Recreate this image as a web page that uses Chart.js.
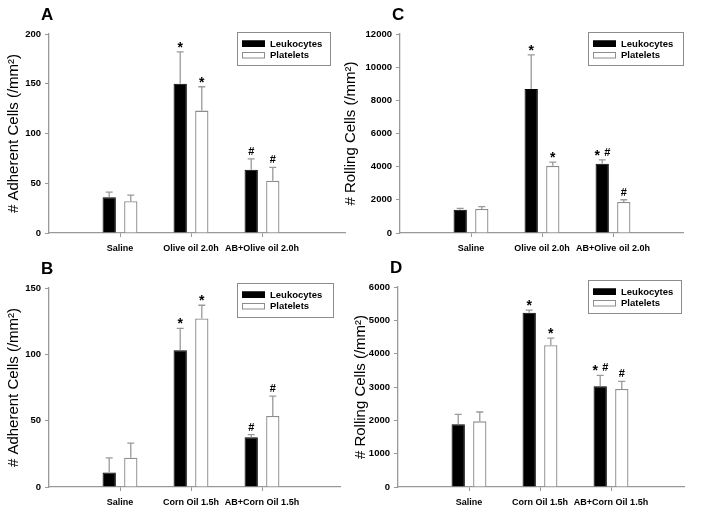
<!DOCTYPE html>
<html>
<head>
<meta charset="utf-8">
<script src="https://cdn.jsdelivr.net/npm/chart.js@4.4.0/dist/chart.umd.min.js"></script>
<style>
  body { margin: 0; background: #fff; }
  #wrap { position: relative; width: 702px; height: 516px; overflow: hidden; }
  canvas { position: absolute; }
</style>
</head>
<body>
<div id="wrap">
  <canvas id="chartA" width="351" height="258" style="left:0;top:0"></canvas>
  <canvas id="chartB" width="351" height="258" style="left:0;top:258px"></canvas>
  <canvas id="chartC" width="363" height="258" style="left:339px;top:0"></canvas>
  <canvas id="chartD" width="351" height="258" style="left:351px;top:258px"></canvas>
</div>
<script>
// groups on the x axis
const oliveGroups = ['Saline', 'Olive oil 2.0h', 'AB+Olive oil 2.0h'];
const cornGroups = ['Saline', 'Corn Oil 1.5h', 'AB+Corn Oil 1.5h'];
const seriesNames = ['Leukocytes', 'Platelets'];

// A - adherent cells, olive oil
const adhLeukOlive = [36, 150, 63.5];
const adhLeukOliveSem = [5, 32, 11];
const adhPlatOlive = [32, 123, 52.5];
const adhPlatOliveSem = [6, 24, 13.5];
const adhLeukOliveMark = ['', '*', '#'];
const adhPlatOliveMark = ['', '*', '#'];

// B - adherent cells, corn oil
const adhLeukCorn = [11, 103, 37.5];
const adhLeukCornSem = [11, 16.5, 2];
const adhPlatCorn = [22, 127, 53.5];
const adhPlatCornSem = [11, 10, 15];
const adhLeukCornMark = ['', '*', '#'];
const adhPlatCornMark = ['', '*', '#'];

// C - rolling cells, olive oil
const rolLeukOlive = [1400, 8690, 4170];
const rolLeukOliveSem = [80, 2050, 240];
const rolPlatOlive = [1445, 4050, 1865];
const rolPlatOliveSem = [140, 225, 140];
const rolLeukOliveMark = ['', '*', '* #'];
const rolPlatOliveMark = ['', '*', '#'];

// D - rolling cells, corn oil
const rolLeukCorn = [1880, 5225, 3020];
const rolLeukCornSem = [300, 80, 330];
const rolPlatCorn = [1970, 4255, 2940];
const rolPlatCornSem = [280, 210, 230];
const rolLeukCornMark = ['', '*', '* #'];
const rolPlatCornMark = ['', '*', '#'];

const yTicksAdhA = [0, 200, 50];
const yTicksAdhB = [0, 150, 50];
const yTicksRolC = [0, 12000, 2000];
const yTicksRolD = [0, 6000, 1000];

const FONT = "'Liberation Sans', Arial, Helvetica, sans-serif";

// error bars, significance marks, boxed legend and panel letter
function makeExtras(panel) {
  return {
    id: 'extras',
    afterDatasetsDraw(chart) {
      const ctx = chart.ctx;
      const yScale = chart.scales.y;
      chart.data.datasets.forEach((ds, i) => {
        const meta = chart.getDatasetMeta(i);
        meta.data.forEach((bar, j) => {
          const top = yScale.getPixelForValue(ds.data[j].y + ds.sem[j]);
          ctx.save();
          ctx.strokeStyle = '#9a9a9a';
          ctx.lineWidth = 1.3;
          ctx.beginPath();
          ctx.moveTo(bar.x, bar.y);
          ctx.lineTo(bar.x, top);
          ctx.moveTo(bar.x - 3.5, top);
          ctx.lineTo(bar.x + 3.5, top);
          ctx.stroke();
          const marks = ds.marks[j].split(' ').filter(m => m);
          marks.forEach((m, k) => {
            const cx = bar.x + (k - (marks.length - 1) / 2) * 10;
            ctx.fillStyle = '#000';
            ctx.textAlign = 'center';
            ctx.textBaseline = 'alphabetic';
            if (m === '*') {
              ctx.font = 'bold 14px ' + FONT;
              ctx.fillText(m, cx, top);
            } else {
              ctx.font = 'bold 11px ' + FONT;
              ctx.fillText(m, cx, top - 4);
            }
          });
          ctx.restore();
        });
      });
    },
    afterDraw(chart) {
      const ctx = chart.ctx;
      const area = chart.chartArea;
      const L = panel.legendBox;
      const lx = area.left + L.dx;
      ctx.save();
      ctx.strokeStyle = '#8c8c8c';
      ctx.lineWidth = 1;
      ctx.strokeRect(lx + 0.5, L.y + 0.5, L.w, L.h);
      chart.data.datasets.forEach((ds, i) => {
        const cy = L.y + 11.5 + i * 11.5;
        ctx.fillStyle = ds.backgroundColor;
        ctx.fillRect(lx + 5, cy - 3, 23, 6.5);
        ctx.strokeStyle = ds.borderColor;
        ctx.lineWidth = 1;
        ctx.strokeRect(lx + 5.5, cy - 2.5, 22, 5.5);
        ctx.fillStyle = '#000';
        ctx.font = 'bold 9.5px ' + FONT;
        ctx.textAlign = 'left';
        ctx.textBaseline = 'middle';
        ctx.fillText(ds.label, lx + 33, cy + 0.5);
      });
      ctx.font = 'bold 17px ' + FONT;
      ctx.textBaseline = 'alphabetic';
      ctx.fillText(panel.letter, area.left - 8, area.top - 14);
      ctx.restore();
    }
  };
}

function renderizar_panel(panel) {
  const el = document.getElementById(panel.canvas);
  const canvas = el.getContext('2d');
  const toPoints = (vals) => vals.map((v, i) => ({ x: i + 1, y: v }));
  const rightPad = el.width - panel.axisWidth - panel.slot * panel.xMax;
  new Chart(canvas, {
    type: 'bar',
    data: {
      datasets: [
        {
          label: seriesNames[0],
          data: toPoints(panel.leuk),
          sem: panel.leukSem,
          marks: panel.leukMark,
          backgroundColor: '#000000',
          borderColor: '#000000',
          borderWidth: 1
        },
        {
          label: seriesNames[1],
          data: toPoints(panel.plat),
          sem: panel.platSem,
          marks: panel.platMark,
          backgroundColor: '#ffffff',
          borderColor: '#8c8c8c',
          borderWidth: 1.3
        }
      ]
    },
    options: {
      responsive: false,
      animation: false,
      categoryPercentage: 0.608,
      barPercentage: 0.616,
      layout: { padding: { top: panel.top, right: rightPad, left: 0, bottom: 0 } },
      plugins: {
        legend: { display: false },
        tooltip: { enabled: false }
      },
      scales: {
        x: {
          type: 'linear',
          min: 0,
          max: panel.xMax,
          offset: false,
          afterBuildTicks: (axis) => {
            axis.ticks = panel.groups.map((g, i) => ({ value: i + 1 }));
          },
          afterFit: (axis) => { axis.height = 258 - panel.bottom; },
          ticks: {
            callback: (v) => panel.groups[v - 1],
            autoSkip: false,
            maxRotation: 0,
            padding: 6,
            color: '#000',
            font: { family: FONT, size: 9, weight: 'bold' }
          },
          grid: { drawOnChartArea: false, offset: false, tickLength: 4, color: '#999' },
          border: { color: '#999', width: 1.3 }
        },
        y: {
          min: panel.yTicks[0],
          max: panel.yTicks[1],
          afterFit: (axis) => { axis.width = panel.axisWidth; },
          ticks: {
            stepSize: panel.yTicks[2],
            callback: (v) => String(v),
            padding: 4,
            color: '#000',
            font: { family: FONT, size: 9.5, weight: 'bold' }
          },
          grid: { drawOnChartArea: false, tickLength: 4, color: '#999' },
          border: { color: '#999', width: 1.3 },
          title: {
            display: true,
            text: panel.yTitle,
            color: '#000',
            padding: { top: panel.titlePad, bottom: 0 },
            font: { family: FONT, size: 15, weight: 'normal' }
          }
        }
      }
    },
    plugins: [makeExtras(panel)]
  });
}

renderizar_panel({
  canvas: 'chartA', letter: 'A', groups: oliveGroups,
  leuk: adhLeukOlive, leukSem: adhLeukOliveSem, leukMark: adhLeukOliveMark,
  plat: adhPlatOlive, platSem: adhPlatOliveSem, platMark: adhPlatOliveMark,
  yTicks: yTicksAdhA, yTitle: '# Adherent Cells (/mm²)',
  top: 34, bottom: 233, axisWidth: 49, titlePad: 5, slot: 71, xMax: 4.17,
  legendBox: { dx: 188, y: 32, w: 93, h: 33 }
});
renderizar_panel({
  canvas: 'chartB', letter: 'B', groups: cornGroups,
  leuk: adhLeukCorn, leukSem: adhLeukCornSem, leukMark: adhLeukCornMark,
  plat: adhPlatCorn, platSem: adhPlatCornSem, platMark: adhPlatCornMark,
  yTicks: yTicksAdhB, yTitle: '# Adherent Cells (/mm²)',
  top: 30, bottom: 229, axisWidth: 49, titlePad: 5, slot: 71, xMax: 4.1,
  legendBox: { dx: 188, y: 25, w: 96, h: 34 }
});
renderizar_panel({
  canvas: 'chartC', letter: 'C', groups: oliveGroups,
  leuk: rolLeukOlive, leukSem: rolLeukOliveSem, leukMark: rolLeukOliveMark,
  plat: rolPlatOlive, platSem: rolPlatOliveSem, platMark: rolPlatOliveMark,
  yTicks: yTicksRolC, yTitle: '# Rolling Cells (/mm²)',
  top: 34, bottom: 233, axisWidth: 61, titlePad: 3, slot: 71, xMax: 3.99,
  legendBox: { dx: 188, y: 32, w: 95, h: 33 }
});
renderizar_panel({
  canvas: 'chartD', letter: 'D', groups: cornGroups,
  leuk: rolLeukCorn, leukSem: rolLeukCornSem, leukMark: rolLeukCornMark,
  plat: rolPlatCorn, platSem: rolPlatCornSem, platMark: rolPlatCornMark,
  yTicks: yTicksRolD, yTitle: '# Rolling Cells (/mm²)',
  top: 29, bottom: 229, axisWidth: 47, titlePad: 1, slot: 71, xMax: 4.03,
  legendBox: { dx: 190, y: 22, w: 93, h: 33 }
});
</script>
</body>
</html>
